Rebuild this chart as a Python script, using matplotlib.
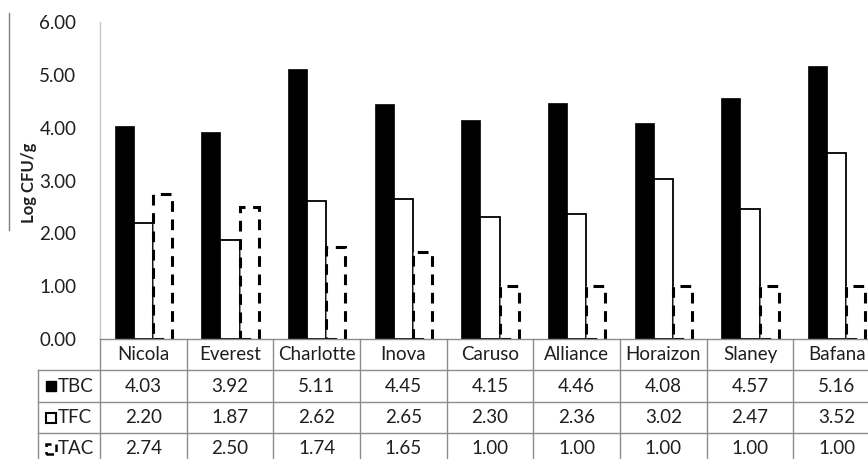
"""Bar chart with Excel-style data table: log counts per potato variety."""

import numpy as np
import matplotlib
matplotlib.use("Agg")
import matplotlib.pyplot as plt
from matplotlib.patches import Rectangle
from matplotlib.lines import Line2D

varieties = ["Nicola", "Everest", "Charlotte", "Inova", "Caruso",
             "Alliance", "Horaizon", "Slaney", "Bafana"]
tbc = [4.03, 3.92, 5.11, 4.45, 4.15, 4.46, 4.08, 4.57, 5.16]
tfc = [2.20, 1.87, 2.62, 2.65, 2.30, 2.36, 3.02, 2.47, 3.52]
tac = [2.74, 2.50, 1.74, 1.65, 1.00, 1.00, 1.00, 1.00, 1.00]
series_names = ["TBC", "TFC", "TAC"]
y_ticks = [0, 1, 2, 3, 4, 5, 6]

W, H = 868, 459
FS = 13.5
TXT = "#1f1f1f"
plt.rcParams["font.family"] = ["Lato", "DejaVu Sans"]

fig = plt.figure(figsize=(W / 100, H / 100), dpi=100)


def fx(px):
    return px / W


def fy(py):
    return 1 - py / H


# plot area (extends a bit past the right edge, as in the cropped original)
left, right, top, bottom = 100, 880, 22, 339
ax = fig.add_axes([fx(left), fy(bottom), fx(right - left), (bottom - top) / H])

x = np.arange(len(varieties))
w = 0.22
ax.bar(x - w, tbc, w, color="black", edgecolor="black", linewidth=0.5)
ax.bar(x, tfc, w, color="white", edgecolor="black", linewidth=1.3)
ax.bar(x + w, tac, w, color="white", edgecolor="black", linewidth=2.2,
       linestyle=(0, (3.5, 2.5)))

ax.set_xlim(-0.5, len(varieties) - 0.5)
ax.set_ylim(0, 6)
ax.set_yticks(y_ticks)
ax.set_yticklabels([f"{v:.2f}" for v in y_ticks], fontsize=FS, color=TXT)
ax.tick_params(axis="y", length=0, pad=17)
ax.set_xticks([])
for side in ["top", "right", "bottom"]:
    ax.spines[side].set_visible(False)
ax.spines["left"].set_color("#c8c8c8")
ax.spines["left"].set_linewidth(1)

fig.text(fx(29), fy(183), "Log CFU/g", rotation=90, ha="center", va="center",
         fontsize=12, fontweight="bold", color=TXT)
fig.add_artist(Line2D([fx(9), fx(9)], [fy(13), fy(230)], color="#7f7f7f", lw=1))

# data table
rows = [339, 370, 402, 433, 465]
cat_w = (right - left) / len(varieties)
col_edges = [left + i * cat_w for i in range(len(varieties) + 1)]
grid_c = "#8c8c8c"
for i, ry in enumerate(rows):
    x0 = left if i == 0 else 38
    fig.add_artist(Line2D([fx(x0), fx(right)], [fy(ry), fy(ry)], color=grid_c, lw=1))
for cx in col_edges:
    fig.add_artist(Line2D([fx(cx), fx(cx)], [fy(rows[0]), fy(rows[-1])], color=grid_c, lw=1))
fig.add_artist(Line2D([fx(38), fx(38)], [fy(rows[1]), fy(rows[-1])], color=grid_c, lw=1))

for j, name in enumerate(varieties):
    cx = left + (j + 0.5) * cat_w
    fig.text(fx(cx), fy((rows[0] + rows[1]) / 2), name, ha="center", va="center",
             fontsize=FS, color=TXT)
    for r, vals in enumerate([tbc, tfc, tac]):
        cy = (rows[r + 1] + rows[r + 2]) / 2
        fig.text(fx(cx), fy(cy), f"{vals[j]:.2f}", ha="center", va="center",
                 fontsize=FS, color=TXT)

# legend keys in row headers
key_styles = [
    dict(facecolor="black", edgecolor="black", linewidth=1),
    dict(facecolor="white", edgecolor="black", linewidth=1.5),
    dict(facecolor="white", edgecolor="black", linewidth=1.8, linestyle=(0, (3, 2))),
]
for r, name in enumerate(series_names):
    cy = (rows[r + 1] + rows[r + 2]) / 2
    fig.add_artist(Rectangle((fx(46), fy(cy + 5)), fx(10), 10 / H, **key_styles[r]))
    fig.text(fx(58), fy(cy), name, ha="left", va="center", fontsize=FS,
             color=TXT)

fig.savefig("out.png", dpi=100)
plt.close(fig)
